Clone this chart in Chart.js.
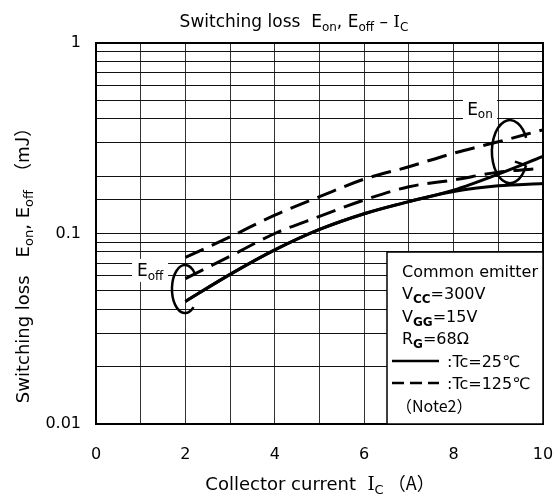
<!DOCTYPE html>
<html>
<head>
<meta charset="utf-8">
<script src="https://cdn.jsdelivr.net/npm/chart.js@4/dist/chart.umd.min.js"></script>
<style>
  html, body { margin: 0; padding: 0; background: #fff; }
  canvas { display: block; }
</style>
</head>
<body>
<canvas id="lossChart" width="558" height="498"></canvas>
<script>
// Switching loss vs collector current, Tc = 25 / 125 degC
const currentA = [2, 3, 4, 5, 6, 7, 8, 9, 10];
const eon25 = [0.044, 0.061, 0.082, 0.105, 0.127, 0.147, 0.169, 0.205, 0.254];
const eoff25 = [0.044, 0.061, 0.082, 0.105, 0.127, 0.147, 0.166, 0.178, 0.183];
const eon125 = [0.075, 0.096, 0.125, 0.156, 0.193, 0.224, 0.264, 0.303, 0.35];
const eoff125 = [0.058, 0.076, 0.100, 0.123, 0.150, 0.176, 0.191, 0.210, 0.220];
const yTickLabels = [0.01, 0.1, 1];

const FONT = '"DejaVu Sans", "Noto Sans CJK JP", sans-serif';
const JP = '"Noto Sans CJK JP", "DejaVu Sans", sans-serif';

function pts(ys) {
  return currentA.map((x, i) => ({ x: x, y: ys[i] }));
}

function curve(label, ys, dashed) {
  return {
    label: label,
    data: pts(ys),
    borderColor: '#000',
    borderWidth: 3,
    borderDash: dashed ? [20, 9] : [],
    pointRadius: 0,
    fill: false,
    cubicInterpolationMode: 'monotone'
  };
}

// text with subscripts: runs = [[text, sub?, font?, weight?], ...]
function runFont(r, size) {
  return (r[1] ? (r[3] || '') + ' ' + Math.round(size * 0.72) : size) + 'px ' + (r[2] || FONT);
}

function drawRich(ctx, runs, x, y, size, align) {
  let w = 0;
  runs.forEach(r => { ctx.font = runFont(r, size); w += ctx.measureText(r[0]).width; });
  let cx = align === 'center' ? x - w / 2 : x;
  ctx.textAlign = 'left';
  ctx.textBaseline = 'alphabetic';
  ctx.fillStyle = '#000';
  runs.forEach(r => {
    ctx.font = runFont(r, size);
    ctx.fillText(r[0], cx, r[1] ? y + size * 0.22 : y);
    cx += ctx.measureText(r[0]).width;
  });
}

const decorations = {
  id: 'decorations',
  afterDatasetsDraw(chart) {
    const { ctx, chartArea: a, scales: { x, y } } = chart;
    ctx.save();

    // frame
    ctx.strokeStyle = '#000';
    ctx.lineWidth = 2;
    ctx.strokeRect(a.left, a.top, a.right - a.left, a.bottom - a.top);

    // E_on / E_off group labels on white patches
    const labels = [
      { runs: [['E'], ['on', true]], x: 8.59, y: 0.453, w: 34, h: 22 },
      { runs: [['E'], ['off', true]], x: 1.21, y: 0.064, w: 36, h: 23 }
    ];
    labels.forEach(l => {
      const px = x.getPixelForValue(l.x), py = y.getPixelForValue(l.y);
      ctx.fillStyle = '#fff';
      ctx.fillRect(px - l.w / 2, py - l.h / 2, l.w, l.h);
      drawRich(ctx, l.runs, px, py + 6, 17, 'center');
    });

    // group ellipses
    ctx.strokeStyle = '#000';
    ctx.lineWidth = 2.5;
    let cx = x.getPixelForValue(9.26), cy = y.getPixelForValue(0.269);
    ctx.beginPath();
    ctx.ellipse(cx, cy, 18, 31.5, 0, 0.45, Math.PI * 2 - 0.45);
    ctx.stroke();
    ctx.beginPath();
    ctx.moveTo(cx + 18 * Math.cos(0.45), cy + 31.5 * Math.sin(0.45));
    ctx.lineTo(cx + 5, cy + 10);
    ctx.stroke();

    cx = x.getPixelForValue(1.99); cy = y.getPixelForValue(0.0511);
    ctx.beginPath();
    ctx.ellipse(cx, cy, 13, 24, 0, 0.85, Math.PI * 2 - 0.7);
    ctx.stroke();

    // condition box
    const bx = a.right - 156, by = a.bottom - 172;
    ctx.fillStyle = '#fff';
    ctx.fillRect(bx, by, a.right - bx, a.bottom - by);
    ctx.lineWidth = 1.5;
    ctx.strokeRect(bx, by, a.right - bx, a.bottom - by);

    const tx = bx + 15, size = 16;
    drawRich(ctx, [['Common emitter']], tx, by + 25, size);
    drawRich(ctx, [['V'], ['CC', true, FONT, 'bold'], ['=300V']], tx, by + 47, size);
    drawRich(ctx, [['V'], ['GG', true, FONT, 'bold'], ['=15V']], tx, by + 70, size);
    drawRich(ctx, [['R'], ['G', true, FONT, 'bold'], ['=68\u03A9']], tx, by + 92, size);
    drawRich(ctx, [[':Tc=25\u2103']], bx + 60, by + 115, size);
    drawRich(ctx, [[':Tc=125\u2103']], bx + 60, by + 137, size);
    drawRich(ctx, [['\uFF08Note2\uFF09', false, JP]], tx - 6, by + 160, size);

    ctx.lineWidth = 2.5;
    ctx.beginPath();
    ctx.moveTo(bx + 5, by + 109); ctx.lineTo(bx + 52, by + 109);
    ctx.stroke();
    ctx.setLineDash([12, 6]);
    ctx.beginPath();
    ctx.moveTo(bx + 5, by + 131); ctx.lineTo(bx + 52, by + 131);
    ctx.stroke();
    ctx.setLineDash([]);

    // titles
    const IC = ['I', false, '"DejaVu Serif", serif'];
    drawRich(ctx, [['Switching loss  E'], ['on', true], [', E'], ['off', true], [' \u2013 '], IC, ['C', true]],
      294, 27, 17, 'center');
    drawRich(ctx, [['Collector current  '], IC, ['C', true], [' \uFF08A\uFF09', false, JP]],
      320, 490, 18, 'center');

    ctx.translate(29, 261);
    ctx.rotate(-Math.PI / 2);
    drawRich(ctx, [['Switching loss\u3000E'], ['on', true], [', E'], ['off', true], ['\u3000\uFF08mJ\uFF09', false, JP]],
      0, 0, 18, 'center');

    ctx.restore();
  }
};

new Chart(document.getElementById('lossChart'), {
  type: 'line',
  data: {
    datasets: [
      curve('Eon Tc=25', eon25, false),
      curve('Eoff Tc=25', eoff25, false),
      curve('Eon Tc=125', eon125, true),
      curve('Eoff Tc=125', eoff125, true)
    ]
  },
  options: {
    responsive: false,
    animation: false,
    layout: { padding: { left: 0, top: 43, right: 15, bottom: 0 } },
    plugins: {
      legend: { display: false },
      title: { display: false },
      tooltip: { enabled: false }
    },
    scales: {
      x: {
        type: 'linear',
        min: 0,
        max: 10,
        afterFit(scale) {
          scale.height = 74;
          scale.paddingLeft = 0;
          scale.paddingRight = 0;
        },
        grid: { color: '#333', lineWidth: 1, drawTicks: false },
        border: { color: '#000', width: 2 },
        ticks: {
          stepSize: 1,
          autoSkip: false,
          maxRotation: 0,
          padding: 21,
          color: '#000',
          font: { family: FONT, size: 16 },
          callback: v => (v % 2 === 0 ? String(v) : '')
        }
      },
      y: {
        type: 'logarithmic',
        min: 0.01,
        max: 1,
        afterFit(scale) { scale.width = 96; },
        grid: { color: '#111', lineWidth: 1, drawTicks: false },
        border: { color: '#000', width: 2 },
        ticks: {
          autoSkip: false,
          padding: 15,
          color: '#000',
          font: { family: FONT, size: 16 },
          callback: v => {
            const hit = yTickLabels.find(t => Math.abs(t - v) < t * 1e-6);
            return hit !== undefined ? String(hit) : '';
          }
        }
      }
    }
  },
  plugins: [decorations]
});
</script>
</body>
</html>
